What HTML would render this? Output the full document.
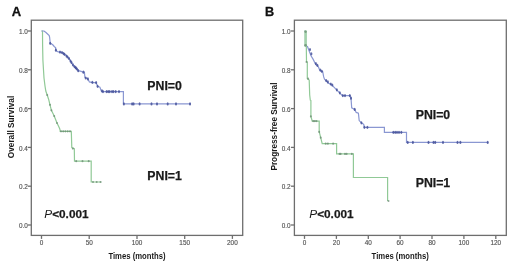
<!DOCTYPE html>
<html><head><meta charset="utf-8"><style>
html,body{margin:0;padding:0;background:#fff;}
svg{display:block;}
text{font-family:"Liberation Sans",Arial,sans-serif;}
.tl{font-size:6.4px;stroke:#666;stroke-width:0.15px;fill:#4c4c4c;}
.pl{font-size:13px;font-weight:bold;fill:#111;stroke:#111;stroke-width:0.3px;}
.at{font-size:8.25px;font-weight:bold;fill:#1a1a1a;}
.xt{font-size:7.5px;}
.an{font-size:12.3px;font-weight:bold;fill:#1a1a1a;stroke:#1a1a1a;stroke-width:0.25px;}
.pv{font-size:11.8px;font-weight:bold;fill:#1a1a1a;stroke:#1a1a1a;stroke-width:0.25px;}
.it{font-style:italic;font-weight:normal;stroke:none;}
</style></head><body>
<svg width="520" height="268" viewBox="0 0 520 268">
<rect width="520" height="268" fill="#fff"/>
<rect x="31.3" y="20.2" width="211.4" height="215.2" fill="none" stroke="#6e6e6e" stroke-width="1.3"/><line x1="27.8" y1="31.0" x2="31.3" y2="31.0" stroke="#6e6e6e" stroke-width="1.3"/><text x="27.8" y="34.1" class="tl" text-anchor="end">1.0</text><line x1="27.8" y1="69.8" x2="31.3" y2="69.8" stroke="#6e6e6e" stroke-width="1.3"/><text x="27.8" y="72.9" class="tl" text-anchor="end">0.8</text><line x1="27.8" y1="108.6" x2="31.3" y2="108.6" stroke="#6e6e6e" stroke-width="1.3"/><text x="27.8" y="111.7" class="tl" text-anchor="end">0.6</text><line x1="27.8" y1="147.4" x2="31.3" y2="147.4" stroke="#6e6e6e" stroke-width="1.3"/><text x="27.8" y="150.5" class="tl" text-anchor="end">0.4</text><line x1="27.8" y1="186.2" x2="31.3" y2="186.2" stroke="#6e6e6e" stroke-width="1.3"/><text x="27.8" y="189.3" class="tl" text-anchor="end">0.2</text><line x1="27.8" y1="225.0" x2="31.3" y2="225.0" stroke="#6e6e6e" stroke-width="1.3"/><text x="27.8" y="228.1" class="tl" text-anchor="end">0.0</text><line x1="41.5" y1="235.4" x2="41.5" y2="238.9" stroke="#6e6e6e" stroke-width="1.3"/><text x="41.5" y="245.1" class="tl" text-anchor="middle">0</text><line x1="89.2" y1="235.4" x2="89.2" y2="238.9" stroke="#6e6e6e" stroke-width="1.3"/><text x="89.2" y="245.1" class="tl" text-anchor="middle">50</text><line x1="137.0" y1="235.4" x2="137.0" y2="238.9" stroke="#6e6e6e" stroke-width="1.3"/><text x="137.0" y="245.1" class="tl" text-anchor="middle">100</text><line x1="184.7" y1="235.4" x2="184.7" y2="238.9" stroke="#6e6e6e" stroke-width="1.3"/><text x="184.7" y="245.1" class="tl" text-anchor="middle">150</text><line x1="232.4" y1="235.4" x2="232.4" y2="238.9" stroke="#6e6e6e" stroke-width="1.3"/><text x="232.4" y="245.1" class="tl" text-anchor="middle">200</text>
<rect x="294.4" y="20.2" width="211.9" height="215.2" fill="none" stroke="#6e6e6e" stroke-width="1.3"/><line x1="290.9" y1="31.0" x2="294.4" y2="31.0" stroke="#6e6e6e" stroke-width="1.3"/><text x="290.6" y="34.1" class="tl" text-anchor="end">1.0</text><line x1="290.9" y1="69.8" x2="294.4" y2="69.8" stroke="#6e6e6e" stroke-width="1.3"/><text x="290.6" y="72.9" class="tl" text-anchor="end">0.8</text><line x1="290.9" y1="108.6" x2="294.4" y2="108.6" stroke="#6e6e6e" stroke-width="1.3"/><text x="290.6" y="111.7" class="tl" text-anchor="end">0.6</text><line x1="290.9" y1="147.4" x2="294.4" y2="147.4" stroke="#6e6e6e" stroke-width="1.3"/><text x="290.6" y="150.5" class="tl" text-anchor="end">0.4</text><line x1="290.9" y1="186.2" x2="294.4" y2="186.2" stroke="#6e6e6e" stroke-width="1.3"/><text x="290.6" y="189.3" class="tl" text-anchor="end">0.2</text><line x1="290.9" y1="225.0" x2="294.4" y2="225.0" stroke="#6e6e6e" stroke-width="1.3"/><text x="290.6" y="228.1" class="tl" text-anchor="end">0.0</text><line x1="304.5" y1="235.4" x2="304.5" y2="238.9" stroke="#6e6e6e" stroke-width="1.3"/><text x="304.5" y="245.1" class="tl" text-anchor="middle">0</text><line x1="336.4" y1="235.4" x2="336.4" y2="238.9" stroke="#6e6e6e" stroke-width="1.3"/><text x="336.4" y="245.1" class="tl" text-anchor="middle">20</text><line x1="368.3" y1="235.4" x2="368.3" y2="238.9" stroke="#6e6e6e" stroke-width="1.3"/><text x="368.3" y="245.1" class="tl" text-anchor="middle">40</text><line x1="400.1" y1="235.4" x2="400.1" y2="238.9" stroke="#6e6e6e" stroke-width="1.3"/><text x="400.1" y="245.1" class="tl" text-anchor="middle">60</text><line x1="432.0" y1="235.4" x2="432.0" y2="238.9" stroke="#6e6e6e" stroke-width="1.3"/><text x="432.0" y="245.1" class="tl" text-anchor="middle">80</text><line x1="463.9" y1="235.4" x2="463.9" y2="238.9" stroke="#6e6e6e" stroke-width="1.3"/><text x="463.9" y="245.1" class="tl" text-anchor="middle">100</text><line x1="495.8" y1="235.4" x2="495.8" y2="238.9" stroke="#6e6e6e" stroke-width="1.3"/><text x="495.8" y="245.1" class="tl" text-anchor="middle">120</text>
<path d="M41.5 31.0 L42.5 31.0 L42.6 45.0 L42.9 60.0 L43.5 70.0 L44.0 78.0 L45.0 86.0 L45.8 91.0 L47.2 95.0 L48.6 99.2 L50.0 104.8 L51.4 110.3 L54.2 116.0 L57.0 123.0 L58.7 126.6 L59.8 129.0 L60.2 130.7 L60.2 131.3 L71.3 131.3 L71.8 147.6 L74.3 148.6 L74.5 161.2 L91.2 161.2 L91.2 182.0 L101.4 182.0" fill="none" stroke="#90c996" stroke-width="1.2"/>
<g fill="#6a8a72" fill-opacity="0.75"><ellipse cx="47.2" cy="95.0" rx="1.00" ry="1.10"/><ellipse cx="50.0" cy="104.8" rx="1.00" ry="1.10"/><ellipse cx="51.4" cy="110.3" rx="1.00" ry="1.10"/><ellipse cx="54.2" cy="116.0" rx="1.00" ry="1.10"/><ellipse cx="57.0" cy="123.0" rx="1.00" ry="1.10"/><ellipse cx="61.0" cy="131.3" rx="1.00" ry="1.10"/><ellipse cx="63.2" cy="131.3" rx="1.00" ry="1.10"/><ellipse cx="65.4" cy="131.3" rx="1.00" ry="1.10"/><ellipse cx="67.7" cy="131.3" rx="1.00" ry="1.10"/><ellipse cx="70.0" cy="131.3" rx="1.00" ry="1.10"/><ellipse cx="72.9" cy="148.6" rx="1.00" ry="1.10"/><ellipse cx="76.2" cy="161.2" rx="1.00" ry="1.10"/><ellipse cx="82.5" cy="161.2" rx="1.00" ry="1.10"/><ellipse cx="88.7" cy="161.2" rx="1.00" ry="1.10"/><ellipse cx="93.0" cy="182.0" rx="1.00" ry="1.10"/><ellipse cx="96.7" cy="182.0" rx="1.00" ry="1.10"/><ellipse cx="100.5" cy="182.0" rx="1.00" ry="1.10"/></g>
<path d="M41.5 31.0 L44.0 31.0 L46.0 32.5 L49.2 35.5 L49.6 37.0 L50.2 43.0 L53.0 45.0 L54.4 46.7 L55.6 47.5 L55.9 50.4 L58.1 51.9 L60.4 52.2 L62.6 52.8 L65.6 54.9 L67.9 57.1 L70.1 60.1 L73.0 65.4 L76.0 68.4 L78.2 70.7 L81.2 71.4 L83.4 72.2 L84.4 72.2 L84.9 77.4 L87.9 78.9 L89.4 81.9 L92.4 82.6 L96.1 82.6 L97.6 86.3 L99.9 87.1 L101.3 91.0 L101.6 91.6 L123.4 91.6 L123.4 103.9 L190.8 103.9" fill="none" stroke="#8a97d2" stroke-width="1.2"/>
<g fill="#45519a" fill-opacity="0.85"><ellipse cx="50.2" cy="43.3" rx="1.00" ry="1.60"/><ellipse cx="55.9" cy="50.2" rx="1.00" ry="1.60"/><ellipse cx="60.0" cy="52.1" rx="1.00" ry="1.60"/><ellipse cx="62.0" cy="52.5" rx="1.00" ry="1.60"/><ellipse cx="63.5" cy="53.5" rx="1.00" ry="1.60"/><ellipse cx="64.5" cy="54.3" rx="1.00" ry="1.60"/><ellipse cx="66.5" cy="56.0" rx="1.00" ry="1.60"/><ellipse cx="67.5" cy="57.0" rx="1.00" ry="1.60"/><ellipse cx="69.0" cy="58.5" rx="1.00" ry="1.60"/><ellipse cx="70.5" cy="61.0" rx="1.00" ry="1.60"/><ellipse cx="71.5" cy="62.5" rx="1.00" ry="1.60"/><ellipse cx="73.0" cy="64.8" rx="1.00" ry="1.60"/><ellipse cx="74.5" cy="66.5" rx="1.00" ry="1.60"/><ellipse cx="75.5" cy="67.5" rx="1.00" ry="1.60"/><ellipse cx="76.0" cy="68.0" rx="1.00" ry="1.60"/><ellipse cx="77.0" cy="69.0" rx="1.00" ry="1.60"/><ellipse cx="78.2" cy="70.7" rx="1.00" ry="1.60"/><ellipse cx="83.4" cy="72.2" rx="1.00" ry="1.60"/><ellipse cx="85.7" cy="78.0" rx="1.00" ry="1.60"/><ellipse cx="87.9" cy="78.9" rx="1.00" ry="1.60"/><ellipse cx="92.4" cy="82.3" rx="1.00" ry="1.60"/><ellipse cx="96.1" cy="82.6" rx="1.00" ry="1.60"/><ellipse cx="97.6" cy="86.3" rx="1.00" ry="1.60"/><ellipse cx="102.0" cy="90.8" rx="1.00" ry="1.60"/><ellipse cx="103.0" cy="91.6" rx="1.00" ry="1.60"/><ellipse cx="106.6" cy="91.6" rx="1.00" ry="1.60"/><ellipse cx="108.2" cy="91.6" rx="1.00" ry="1.60"/><ellipse cx="109.7" cy="91.6" rx="1.00" ry="1.60"/><ellipse cx="112.0" cy="91.6" rx="1.00" ry="1.60"/><ellipse cx="113.4" cy="91.6" rx="1.00" ry="1.60"/><ellipse cx="115.7" cy="91.6" rx="1.00" ry="1.60"/><ellipse cx="119.0" cy="91.6" rx="1.00" ry="1.60"/><ellipse cx="123.9" cy="103.9" rx="1.00" ry="1.60"/><ellipse cx="132.1" cy="103.9" rx="1.00" ry="1.60"/><ellipse cx="133.6" cy="103.9" rx="1.00" ry="1.60"/><ellipse cx="139.6" cy="103.9" rx="1.00" ry="1.60"/><ellipse cx="151.5" cy="103.9" rx="1.00" ry="1.60"/><ellipse cx="157.0" cy="103.9" rx="1.00" ry="1.60"/><ellipse cx="167.7" cy="103.9" rx="1.00" ry="1.60"/><ellipse cx="176.0" cy="103.9" rx="1.00" ry="1.60"/><ellipse cx="190.0" cy="103.9" rx="1.00" ry="1.60"/></g>
<path d="M304.5 31.0 L305.5 31.0 L305.5 46.0 L307.5 46.5 L308.7 49.7 L311.0 55.7 L313.2 59.4 L315.4 63.9 L318.4 66.9 L319.9 70.6 L322.7 71.7 L323.7 76.9 L324.5 79.2 L328.2 82.9 L331.9 85.1 L334.2 87.4 L336.4 89.6 L339.4 92.6 L342.4 95.6 L349.9 95.6 L351.0 98.2 L351.7 107.9 L354.7 109.4 L356.2 112.4 L358.4 113.1 L359.2 120.6 L361.4 122.8 L363.7 124.3 L364.4 127.3 L384.4 127.3 L384.4 132.3 L406.5 132.3 L406.5 142.4 L488.2 142.4" fill="none" stroke="#8a97d2" stroke-width="1.2"/>
<g fill="#45519a" fill-opacity="0.85"><ellipse cx="310.0" cy="49.5" rx="1.00" ry="1.60"/><ellipse cx="311.4" cy="53.8" rx="1.00" ry="1.60"/><ellipse cx="315.9" cy="63.6" rx="1.00" ry="1.60"/><ellipse cx="317.4" cy="65.3" rx="1.00" ry="1.60"/><ellipse cx="320.4" cy="70.0" rx="1.00" ry="1.60"/><ellipse cx="321.9" cy="71.3" rx="1.00" ry="1.60"/><ellipse cx="326.2" cy="80.5" rx="1.00" ry="1.60"/><ellipse cx="327.9" cy="81.9" rx="1.00" ry="1.60"/><ellipse cx="330.8" cy="84.0" rx="1.00" ry="1.60"/><ellipse cx="332.3" cy="85.0" rx="1.00" ry="1.60"/><ellipse cx="336.8" cy="89.8" rx="1.00" ry="1.60"/><ellipse cx="339.8" cy="92.8" rx="1.00" ry="1.60"/><ellipse cx="342.8" cy="95.6" rx="1.00" ry="1.60"/><ellipse cx="345.0" cy="95.6" rx="1.00" ry="1.60"/><ellipse cx="349.8" cy="95.6" rx="1.00" ry="1.60"/><ellipse cx="351.0" cy="98.2" rx="1.00" ry="1.60"/><ellipse cx="354.7" cy="109.4" rx="1.00" ry="1.60"/><ellipse cx="361.4" cy="122.8" rx="1.00" ry="1.60"/><ellipse cx="364.4" cy="127.3" rx="1.00" ry="1.60"/><ellipse cx="367.4" cy="127.3" rx="1.00" ry="1.60"/><ellipse cx="393.3" cy="132.3" rx="1.00" ry="1.60"/><ellipse cx="395.2" cy="132.3" rx="1.00" ry="1.60"/><ellipse cx="397.0" cy="132.3" rx="1.00" ry="1.60"/><ellipse cx="399.0" cy="132.3" rx="1.00" ry="1.60"/><ellipse cx="401.3" cy="132.3" rx="1.00" ry="1.60"/><ellipse cx="407.7" cy="142.4" rx="1.00" ry="1.60"/><ellipse cx="412.9" cy="142.4" rx="1.00" ry="1.60"/><ellipse cx="428.5" cy="142.4" rx="1.00" ry="1.60"/><ellipse cx="433.5" cy="142.4" rx="1.00" ry="1.60"/><ellipse cx="435.2" cy="142.4" rx="1.00" ry="1.60"/><ellipse cx="443.0" cy="142.4" rx="1.00" ry="1.60"/><ellipse cx="457.5" cy="142.4" rx="1.00" ry="1.60"/><ellipse cx="460.4" cy="142.4" rx="1.00" ry="1.60"/><ellipse cx="487.7" cy="142.4" rx="1.00" ry="1.60"/></g>
<path d="M304.5 31.0 L305.5 31.0 L305.5 46.0 L306.3 46.0 L306.5 61.5 L307.3 62.0 L307.3 78.7 L309.2 80.0 L309.7 95.0 L310.3 100.2 L310.9 100.5 L310.9 116.6 L311.8 119.5 L312.2 121.1 L319.2 121.1 L319.2 131.7 L320.7 137.7 L322.2 143.7 L336.6 143.7 L336.6 153.9 L353.4 153.9 L353.4 177.5 L387.6 177.5 L387.6 201.0" fill="none" stroke="#90c996" stroke-width="1.2"/>
<g fill="#6a8a72" fill-opacity="0.75"><ellipse cx="305.6" cy="31.8" rx="1.00" ry="1.10"/><ellipse cx="305.6" cy="45.0" rx="1.00" ry="1.10"/><ellipse cx="306.5" cy="62.0" rx="1.00" ry="1.10"/><ellipse cx="308.1" cy="78.7" rx="1.00" ry="1.10"/><ellipse cx="310.9" cy="116.4" rx="1.00" ry="1.10"/><ellipse cx="313.2" cy="121.1" rx="1.00" ry="1.10"/><ellipse cx="314.8" cy="121.1" rx="1.00" ry="1.10"/><ellipse cx="316.5" cy="121.1" rx="1.00" ry="1.10"/><ellipse cx="319.2" cy="131.9" rx="1.00" ry="1.10"/><ellipse cx="320.7" cy="137.7" rx="1.00" ry="1.10"/><ellipse cx="325.7" cy="143.7" rx="1.00" ry="1.10"/><ellipse cx="327.9" cy="143.7" rx="1.00" ry="1.10"/><ellipse cx="333.1" cy="143.7" rx="1.00" ry="1.10"/><ellipse cx="339.5" cy="153.9" rx="1.00" ry="1.10"/><ellipse cx="340.6" cy="153.9" rx="1.00" ry="1.10"/><ellipse cx="345.0" cy="153.9" rx="1.00" ry="1.10"/><ellipse cx="346.6" cy="153.9" rx="1.00" ry="1.10"/><ellipse cx="351.8" cy="153.9" rx="1.00" ry="1.10"/><ellipse cx="388.5" cy="201.0" rx="1.00" ry="1.10"/></g>
<rect x="304.3" y="30.5" width="2.6" height="16" fill="#a4d2ac"/>
<g fill="#6a8a72" fill-opacity="0.75"><ellipse cx="305.6" cy="31.8" rx="1.2" ry="1.1"/><ellipse cx="305.6" cy="45.2" rx="1.3" ry="1.2"/></g>
<text x="11.8" y="16.4" class="pl">A</text>
<text x="265.1" y="16.1" class="pl" style="font-size:12.7px">B</text>
<text transform="translate(13.5,127) rotate(-90)" class="at" text-anchor="middle">Overall Survival</text>
<text transform="translate(277.4,126.6) rotate(-90)" class="at" text-anchor="middle">Progress-free Survival</text>
<text transform="translate(137,258.7) scale(0.935,1)" class="at" text-anchor="middle">Times (months)</text>
<text transform="translate(400.2,258.7) scale(0.935,1)" class="at" text-anchor="middle">Times (months)</text>
<text x="147.3" y="89.6" class="an">PNI=0</text>
<text x="147.3" y="179.6" class="an">PNI=1</text>
<text x="415.7" y="118.9" class="an">PNI=0</text>
<text x="415.7" y="186.8" class="an">PNI=1</text>
<text x="44.3" y="217.9" class="pv"><tspan class="it">P</tspan>&lt;0.001</text>
<text x="309.3" y="218.2" class="pv"><tspan class="it">P</tspan>&lt;0.001</text>
</svg>
</body></html>
